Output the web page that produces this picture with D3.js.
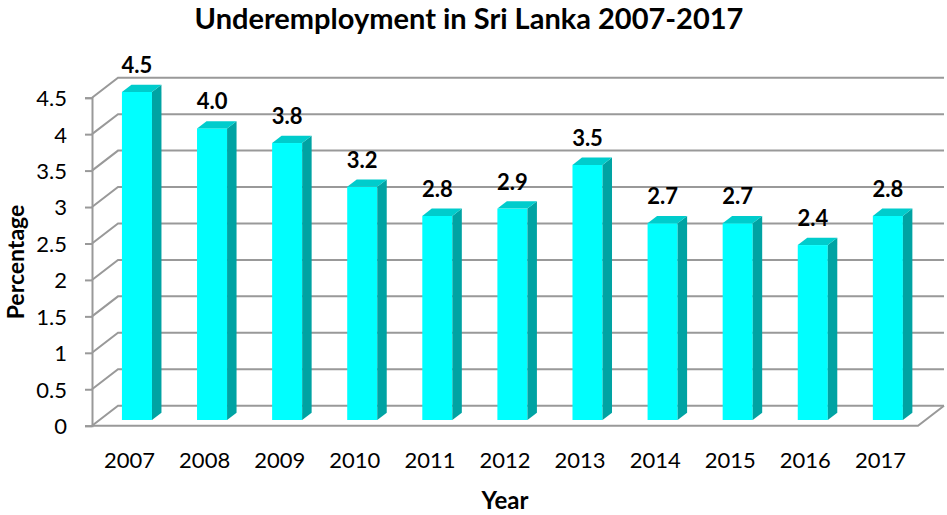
<!DOCTYPE html>
<html>
<head>
<meta charset="utf-8">
<script src="https://cdn.jsdelivr.net/npm/d3@7"></script>
<style>
  body { margin: 0; background: #fff; }
  svg { display: block; }
  text { font-family: Lato, "Liberation Sans", sans-serif; fill: #000; }
</style>
</head>
<body>
<div id="chart"></div>
<script>
var years = ["2007", "2008", "2009", "2010", "2011", "2012", "2013", "2014", "2015", "2016", "2017"];
var rates = [4.5, 4.0, 3.8, 3.2, 2.8, 2.9, 3.5, 2.7, 2.7, 2.4, 2.8];
var yTicks = [0, 0.5, 1, 1.5, 2, 2.5, 3, 3.5, 4, 4.5];

var w = 947, h = 515;
// depth of the 3d box (back wall offset)
var DX = 26, DY = -20;
// bar sits part way into the depth
var f0 = 0.285, f1 = 0.65;

var svg = d3.select("#chart").append("svg").attr("width", w).attr("height", h);

var y = d3.scaleLinear().domain([0, 4.5]).range([425.7, 97.7]);
var x = d3.scaleBand().domain(years).range([92, 918]).paddingInner(0.6).paddingOuter(0.3);
var step = x.step();

var gridColor = "#999";

// back wall gridlines + side wall diagonals
var grid = svg.append("g");
yTicks.forEach(function (t) {
  grid.append("path")
    .attr("d", "M92," + y(t) + "L" + (92 + DX) + "," + (y(t) + DY) + "L" + (918 + DX) + "," + (y(t) + DY))
    .attr("fill", "none").attr("stroke", gridColor).attr("stroke-width", 2);
});
// floor front + right edges
grid.append("path")
  .attr("d", "M92," + y(0) + "L918," + y(0) + "L" + (918 + DX) + "," + (y(0) + DY))
  .attr("fill", "none").attr("stroke", gridColor).attr("stroke-width", 2);

// y axis
var yAxis = svg.append("g")
  .attr("transform", "translate(92,0)")
  .call(d3.axisLeft(y).tickValues(yTicks).tickSize(7).tickPadding(18).tickFormat(d3.format("~g")));
yAxis.select(".domain").attr("stroke", gridColor).attr("stroke-width", 2);
yAxis.selectAll(".tick line").attr("stroke", gridColor).attr("stroke-width", 2);
yAxis.selectAll(".tick text").attr("font-size", 22).attr("font-family", "Lato, sans-serif").attr("dy", "0.36em");

// x labels
svg.append("g").selectAll("text")
  .data(years).enter().append("text")
  .attr("x", function (d) { return x(d) - step * 0.3 + step / 2; })
  .attr("y", 468)
  .attr("text-anchor", "middle")
  .attr("font-size", 22)
  .text(function (d) { return d; });

// bars
var sdx = DX * (f1 - f0), sdy = DY * (f1 - f0);
var bars = svg.append("g").selectAll("g")
  .data(years.map(function (d, i) { return { year: d, v: rates[i] }; }))
  .enter().append("g");

bars.each(function (d) {
  var g = d3.select(this);
  var x0 = x(d.year) + DX * f0, x1 = x0 + x.bandwidth();
  var base = y(0) + DY * f0, top = y(d.v) + DY * f0;
  g.append("rect").attr("x", x0).attr("y", top).attr("width", x1 - x0).attr("height", base - top).attr("fill", "#00ffff");
  g.append("path")
    .attr("d", "M" + x1 + "," + top + "L" + (x1 + sdx) + "," + (top + sdy) + "L" + (x1 + sdx) + "," + (base + sdy) + "L" + x1 + "," + base + "Z")
    .attr("fill", "#00a3a3");
  g.append("path")
    .attr("d", "M" + x0 + "," + top + "L" + x1 + "," + top + "L" + (x1 + sdx) + "," + (top + sdy) + "L" + (x0 + sdx) + "," + (top + sdy) + "Z")
    .attr("fill", "#00cccc");
  g.append("text")
    .attr("x", (x0 + x1) / 2)
    .attr("y", top - 19)
    .attr("text-anchor", "middle")
    .attr("font-size", 22)
    .attr("font-weight", "bold")
    .text(d3.format(".1f")(d.v));
});

// titles
svg.append("text").attr("x", 469).attr("y", 29).attr("text-anchor", "middle")
  .attr("font-size", 29).attr("font-weight", "bold")
  .text("Underemployment in Sri Lanka 2007-2017");

svg.append("text").attr("transform", "translate(24,262) rotate(-90)").attr("text-anchor", "middle")
  .attr("font-size", 23).attr("font-weight", "bold")
  .text("Percentage");

svg.append("text").attr("x", 505).attr("y", 509).attr("text-anchor", "middle")
  .attr("font-size", 24).attr("font-weight", "bold")
  .text("Year");
</script>
</body>
</html>
